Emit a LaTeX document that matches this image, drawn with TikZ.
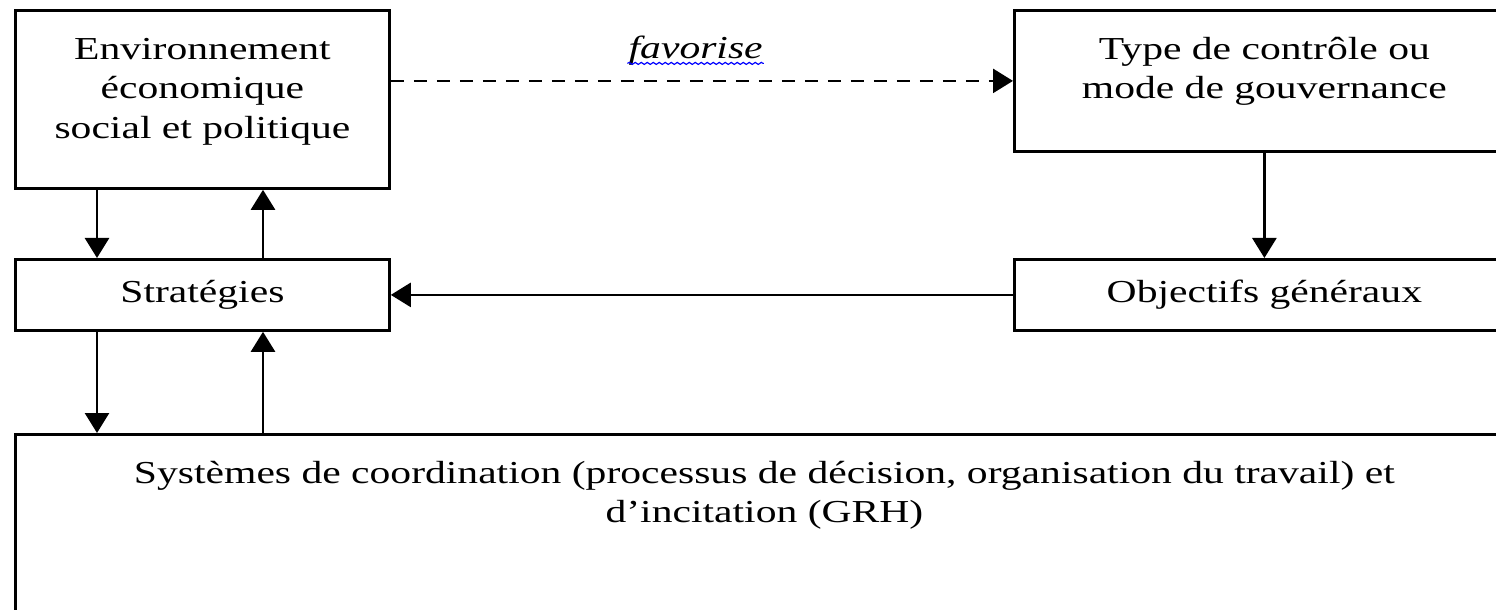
\documentclass[tikz,border=0pt]{standalone}
\usepackage{fontspec}
\setmainfont{Liberation Serif}[FakeStretch=1.3]
\usetikzlibrary{arrows.meta,decorations.pathmorphing}

\newcommand{\boxtxt}[3]{\parbox[c][#2][t]{#1}{\centering\rule{0pt}{24.5pt}#3}}

\begin{document}
\begin{tikzpicture}[x=0.5pt, y=-0.5pt,
  block/.style={draw, line width=1.4pt, inner sep=0pt, anchor=north west, font=\fontsize{16}{19.75}\selectfont},
  arr/.style={-{Triangle[width=12pt,length=10pt]}, line width=1.3pt}]

  \path[use as bounding box, clip] (0,0) rectangle (1496,610);

  % Left column
  \node[block] (env) at (14,9) {\boxtxt{187pt}{89pt}{Environnement\\économique\\social et politique}};
  \node[block, minimum width=187pt, minimum height=35.5pt] (strat) at (14,258) {Stratégies};

  % Right column
  \node[block] (type) at (1013,9) {\boxtxt{250pt}{70.5pt}{Type de contrôle ou\\mode de gouvernance}};
  \node[block, minimum width=250pt, minimum height=35.5pt] (obj) at (1013,258) {Objectifs généraux};

  % Bottom box
  \node[block] (sys) at (14,433) {\boxtxt{749pt}{110pt}{Systèmes de coordination (processus de décision, organisation du travail) et\\d’incitation (GRH)}};

  % Vertical arrows
  \draw[arr] ([xshift=41.5pt]env.south west) -- ([xshift=41.5pt]strat.north west);
  \draw[arr] ([xshift=124.5pt]strat.north west) -- ([xshift=124.5pt]env.south west);
  \draw[arr] ([xshift=41.5pt]strat.south west) -- ([xshift=41.5pt]sys.north west);
  \draw[arr] ([xshift=124.5pt]sys.north west) -- ([xshift=124.5pt]strat.south west);
  \draw[arr] (type.south) -- (obj.north);

  % Horizontal arrows
  \draw[arr] (obj.west) -- (strat.east);
  \draw[arr, dash pattern=on 6.5pt off 5pt] (type.west -| env.east) -- (type.west)
    node[pos=0.49, yshift=11.25pt, anchor=base, inner sep=0pt, font=\fontsize{16}{19.75}\selectfont\itshape] (fav) {favorise};
  \draw[blue, line width=0.6pt, decorate, decoration={snake, amplitude=0.5pt, segment length=3pt}]
    ([yshift=-2.5pt]fav.base west) -- ([yshift=-2.5pt]fav.base east);

\end{tikzpicture}
\end{document}
